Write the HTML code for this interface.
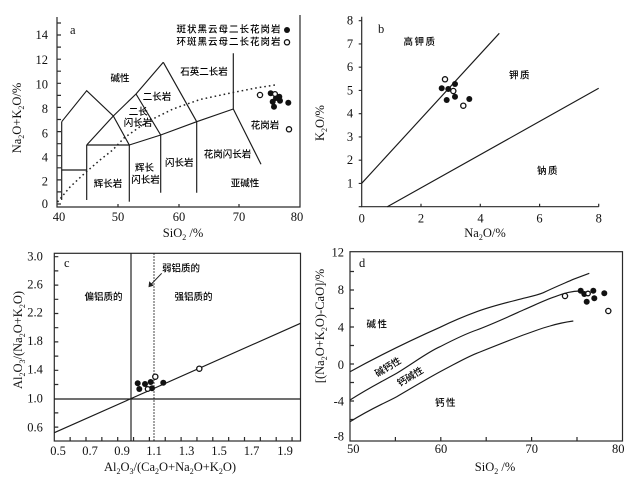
<!DOCTYPE html>
<html>
<head>
<meta charset="utf-8">
<style>
html,body{margin:0;padding:0;background:#fff;}
svg{display:block;}
.n{font-family:"Liberation Serif",serif;font-size:12.5px;fill:#111;}
.t{font-family:"Liberation Serif",serif;font-size:12.5px;fill:#111;}
.c{font-family:"Liberation Sans","Noto Sans CJK SC",sans-serif;font-size:9.5px;fill:#000;font-weight:500;}
.ln{stroke:#1a1a1a;stroke-width:1.15;fill:none;}
.ax{stroke:#2a2a2a;stroke-width:1.2;fill:none;}
</style>
</head>
<body>
<svg width="634" height="483" viewBox="0 0 634 483" xmlns="http://www.w3.org/2000/svg">
<rect x="0" y="0" width="634" height="483" fill="#fff"/>

<!-- ================= Panel a ================= -->
<g>
<path class="ax" d="M57,17 V207 H300 V15"/>
<g class="ax">
<path d="M57,204h4M57,191.9h4M57,179.9h4M57,167.8h4M57,155.7h4M57,143.7h4M57,131.6h4M57,119.5h4M57,107.4h4M57,95.4h4M57,83.3h4M57,71.2h4M57,59.2h4M57,47.1h4M57,35h4M57,23h4"/>
<path d="M118,207v-3M179,207v-3M239,207v-3"/>
</g>
<g class="n" text-anchor="end" dominant-baseline="central">
<text x="48" y="35">14</text><text x="48" y="60">12</text><text x="48" y="84.3">10</text>
<text x="48" y="109">8</text><text x="48" y="133.3">6</text><text x="48" y="157.7">4</text>
<text x="48" y="181.7">2</text><text x="48" y="204">0</text>
</g>
<g class="n" text-anchor="middle" dominant-baseline="central">
<text x="59" y="217">40</text><text x="118" y="217">50</text><text x="179" y="217">60</text>
<text x="239" y="217">70</text><text x="297" y="217">80</text>
</g>
<text class="t" x="183" y="237" text-anchor="middle">SiO<tspan font-size="8" dy="3">2</tspan><tspan dy="-3"> /%</tspan></text>
<text class="t" transform="translate(21,118) rotate(-90)" text-anchor="middle">Na<tspan font-size="8" dy="3">2</tspan><tspan dy="-3">O+K</tspan><tspan font-size="8" dy="3">2</tspan><tspan dy="-3">O/%</tspan></text>

<g class="ln">
<path d="M61.7,121.7V200"/>
<path d="M61.7,170H86.7"/>
<path d="M61.7,121.7L86.7,90.7L113.3,116L129.3,145"/>
<path d="M86.7,145V200"/>
<path d="M86.7,145H129.3"/>
<path d="M86.7,145L113.3,116L136,94L163.3,62.3"/>
<path d="M136,94L160.7,135V192.7"/>
<path d="M163.3,62.3L196.7,121.7V192.7"/>
<path d="M129.3,145V201.7"/>
<path d="M129.3,145L160.7,135L196.7,121.7L233.3,109"/>
<path d="M233.3,53.3V109L261,164.3"/>
</g>
<path d="M57.5,202 L70,187 L85,173 L100,160 L112.7,150 L124,138 L146.7,122 L173,109 L200,99.5 L233,92.5 L256,88 L275,85" fill="none" stroke="#222" stroke-width="1.5" stroke-dasharray="1.6 3"/>

<text class="n" x="70" y="34">a</text>
<g class="c" text-anchor="middle" dominant-baseline="central">
<text x="120" y="79">碱性</text>
<text x="204" y="72.7">石英二长岩</text>
<text x="157" y="97.7">二长岩</text>
<text x="138.3" y="112.7">二长</text>
<text x="138" y="123.3">闪长岩</text>
<text x="265" y="126">花岗岩</text>
<text x="227.5" y="155">花岗闪长岩</text>
<text x="179.3" y="163.3">闪长岩</text>
<text x="144.5" y="168.3">辉长</text>
<text x="145.5" y="180.5">闪长岩</text>
<text x="108" y="184.5">辉长岩</text>
<text x="245" y="184">亚碱性</text>
</g>
<g class="c" text-anchor="start" dominant-baseline="central" style="letter-spacing:1px">
<text x="176.5" y="30">斑状黑云母二长花岗岩</text>
<text x="176.5" y="42.3">环斑黑云母二长花岗岩</text>
</g>
<circle cx="287" cy="30" r="3" fill="#111"/>
<circle cx="287" cy="42.3" r="2.6" fill="#fff" stroke="#111" stroke-width="1.3"/>
<g fill="#111">
<circle cx="270.7" cy="93.3" r="3"/><circle cx="279.3" cy="96.7" r="3"/><circle cx="280" cy="100.7" r="3"/>
<circle cx="272.7" cy="101.7" r="3"/><circle cx="274" cy="106.7" r="3"/><circle cx="288.3" cy="102.7" r="3"/>
<circle cx="276" cy="98" r="3"/>
</g>
<g fill="#fff" stroke="#111" stroke-width="1.3">
<circle cx="260" cy="95" r="2.6"/><circle cx="275" cy="94" r="2.4"/><circle cx="289" cy="129.3" r="2.6"/>
</g>
</g>

<!-- ================= Panel b ================= -->
<g>
<path class="ax" d="M361.7,16.7V206.7H598.7"/>
<path class="ax" d="M361.7,206.7h-3M361.7,183.45h-3M361.7,160.2h-3M361.7,136.95h-3M361.7,113.7h-3M361.7,90.45h-3M361.7,67.2h-3M361.7,43.95h-3M361.7,20.7h-3M421,206.7v-3M480.3,206.7v-3M539.6,206.7v-3M598.7,206.7v-3"/>
<g class="n" text-anchor="middle" dominant-baseline="central">
<text x="350" y="20.7">8</text><text x="350" y="43.95">7</text><text x="350" y="67.2">6</text>
<text x="350" y="90.45">5</text><text x="350" y="113.7">4</text><text x="350" y="136.95">3</text>
<text x="350" y="160.2">2</text><text x="350" y="183.45">1</text>
<text x="361.7" y="218.5">0</text><text x="421" y="218.5">2</text><text x="480.5" y="218.5">4</text>
<text x="539.5" y="218.5">6</text><text x="598.7" y="218.5">8</text>
</g>
<text class="t" x="485" y="237" text-anchor="middle">Na<tspan font-size="8" dy="3">2</tspan><tspan dy="-3">O/%</tspan></text>
<text class="t" transform="translate(324,123) rotate(-90)" text-anchor="middle">K<tspan font-size="8" dy="3">2</tspan><tspan dy="-3">O/%</tspan></text>
<g class="ln">
<path d="M361.7,183.3L499.3,33.3"/>
<path d="M387.3,206.7L598.7,88.3"/>
</g>
<text class="n" x="378" y="33">b</text>
<g class="c" text-anchor="middle" dominant-baseline="central" style="letter-spacing:1.5px">
<text x="420" y="42.3">高钾质</text>
<text x="520" y="76">钾质</text>
<text x="548" y="171.7">钠质</text>
</g>
<g fill="#111">
<circle cx="441.7" cy="88.3" r="3"/><circle cx="448.3" cy="89" r="3"/><circle cx="455" cy="84" r="3"/>
<circle cx="446.7" cy="100" r="3"/><circle cx="455" cy="96.7" r="3"/><circle cx="469.3" cy="99" r="3"/>
</g>
<g fill="#fff" stroke="#111" stroke-width="1.3">
<circle cx="445" cy="79.3" r="2.6"/><circle cx="453.3" cy="91" r="2.6"/><circle cx="463.3" cy="105.7" r="2.6"/>
</g>
</g>

<!-- ================= Panel c ================= -->
<g>
<rect class="ax" x="54.3" y="253.3" width="246.2" height="187.7"/>
<path class="ax" d="M70.15,441v-4M86,441v-4M101.85,441v-4M117.7,441v-4M133.55,441v-4M149.4,441v-4M165.25,441v-4M181.1,441v-4M196.95,441v-4M212.8,441v-4M228.65,441v-4M244.5,441v-4M260.35,441v-4M276.2,441v-4M292.05,441v-4
M54.3,427.1h4M54.3,412.9h4M54.3,384.5h4M54.3,370.3h4M54.3,356.1h4M54.3,341.9h4M54.3,327.7h4M54.3,313.5h4M54.3,299.3h4M54.3,285.1h4M54.3,270.9h4M54.3,256.7h4"/>
<g class="n" text-anchor="middle" dominant-baseline="central">
<text x="35" y="256.5">3.0</text><text x="35" y="284.5">2.6</text><text x="35" y="312.5">2.2</text>
<text x="35" y="341">1.8</text><text x="35" y="369.5">1.4</text><text x="35" y="398.5">1.0</text>
<text x="35" y="427.5">0.6</text>
<text x="58" y="451">0.5</text><text x="90" y="451">0.7</text><text x="122" y="451">0.9</text>
<text x="154" y="451">1.1</text><text x="186.5" y="451">1.3</text><text x="219" y="451">1.5</text>
<text x="251.5" y="451">1.7</text><text x="285" y="451">1.9</text>
</g>
<text class="t" x="170" y="471" text-anchor="middle">Al<tspan font-size="8" dy="3">2</tspan><tspan dy="-3">O</tspan><tspan font-size="8" dy="3">3</tspan><tspan dy="-3">/(Ca</tspan><tspan font-size="8" dy="3">2</tspan><tspan dy="-3">O+Na</tspan><tspan font-size="8" dy="3">2</tspan><tspan dy="-3">O+K</tspan><tspan font-size="8" dy="3">2</tspan><tspan dy="-3">O)</tspan></text>
<text class="t" transform="translate(22,340) rotate(-90)" text-anchor="middle">Al<tspan font-size="8" dy="3">2</tspan><tspan dy="-3">O</tspan><tspan font-size="8" dy="3">3</tspan><tspan dy="-3">/(Na</tspan><tspan font-size="8" dy="3">2</tspan><tspan dy="-3">O+K</tspan><tspan font-size="8" dy="3">2</tspan><tspan dy="-3">O)</tspan></text>
<g class="ln">
<path d="M131,253.3V441"/>
<path d="M54.3,399H300.5"/>
<path d="M54.3,432.7L300.5,323.3"/>
</g>
<path d="M154,253.3V441" stroke="#222" stroke-width="1.1" stroke-dasharray="1.5 1.5"/>
<text class="n" x="64" y="267">c</text>
<path d="M161.7,273.3L150.5,285" stroke="#222" stroke-width="1"/>
<path d="M148.5,287.2L149.2,281.2L153.8,285.6Z" fill="#222"/>
<g class="c" text-anchor="middle" dominant-baseline="central">
<text x="181" y="269">弱铝质的</text>
<text x="103.5" y="297.3">偏铝质的</text>
<text x="193.5" y="297.3">强铝质的</text>
</g>
<g fill="#111">
<circle cx="137.7" cy="383.3" r="3"/><circle cx="139.3" cy="389" r="3"/><circle cx="145" cy="384" r="3"/>
<circle cx="150.7" cy="382" r="3"/><circle cx="152" cy="388.3" r="3"/><circle cx="163.3" cy="382.7" r="3"/>
</g>
<g fill="#fff" stroke="#111" stroke-width="1.3">
<circle cx="155.3" cy="376.7" r="2.6"/><circle cx="147.7" cy="389" r="2.4"/><circle cx="199.3" cy="368.7" r="2.6"/>
</g>
</g>

<!-- ================= Panel d ================= -->
<g>
<rect class="ax" x="350" y="251.7" width="272.5" height="189.3"/>
<path class="ax" d="M395.4,441v-4M440.8,441v-4M486.2,441v-4M531.6,441v-4M577,441v-4
M350,419.5h4M350,401h4M350,382.5h4M350,364h4M350,345.5h4M350,327h4M350,308.5h4M350,290h4M350,271.5h4"/>
<g class="n" text-anchor="end" dominant-baseline="central">
<text x="344" y="252.5">12</text><text x="344" y="290">8</text><text x="344" y="327.7">4</text>
<text x="344" y="365">0</text><text x="344" y="401.7">-4</text><text x="344" y="436.7">-8</text>
</g>
<g class="n" text-anchor="middle" dominant-baseline="central">
<text x="353.3" y="449">50</text><text x="441" y="449">60</text><text x="531.7" y="449">70</text>
<text x="618.3" y="449">80</text>
</g>
<text class="t" x="495" y="471" text-anchor="middle">SiO<tspan font-size="8" dy="3">2</tspan><tspan dy="-3"> /%</tspan></text>
<text class="t" transform="translate(324,326) rotate(-90)" text-anchor="middle">[(Na<tspan font-size="8" dy="3">2</tspan><tspan dy="-3">O+K</tspan><tspan font-size="8" dy="3">2</tspan><tspan dy="-3">O)-CaO]/%</tspan></text>
<g class="ln">
<path d="M350,371.7 C375,358 400,345 440,327.3 C455,320 465,316 476.7,311.7 C495,305 510,302 523.3,298.3 C533,296 538,295 543.3,292.7 C555,287 565,283 573.3,279.3 L589.3,273.3"/>
<path d="M350,400 C372,386 385,380 396.7,373.3 C415,362 428,352 440,346.7 C455,339 465,334 476.7,330 C495,323 510,316 523.3,310 C535,305 545,300 555,296.7 C565,293 572,291 580,291"/>
<path d="M350,421.7 C372,408 385,403 396.7,396.7 C415,386 430,377 443.3,370 C455,364 465,358 476.7,353.3 C495,346 510,340 523.3,335 C535,331 542,328 550,326 C560,323 566,322 573.3,321"/>
</g>
<text class="n" x="359" y="267">d</text>
<g class="c" text-anchor="middle" dominant-baseline="central">
<text x="377.5" y="325" style="letter-spacing:1.5px">碱性</text>
<text x="446" y="403.3" style="letter-spacing:1.5px">钙性</text>
<text transform="translate(388.3,367.7) rotate(-31)">碱钙性</text>
<text transform="translate(410.7,377.3) rotate(-31)">钙碱性</text>
</g>
<g fill="#111">
<circle cx="580.7" cy="290.7" r="3"/><circle cx="584.3" cy="294" r="3"/><circle cx="586.7" cy="301.7" r="3"/>
<circle cx="593.3" cy="290.7" r="3"/><circle cx="594.3" cy="298.3" r="3"/><circle cx="604.3" cy="293.3" r="3"/>
</g>
<g fill="#fff" stroke="#111" stroke-width="1.3">
<circle cx="565" cy="296" r="2.6"/><circle cx="588" cy="293.5" r="2.3"/><circle cx="608.3" cy="311" r="2.6"/>
</g>
</g>
</svg>
</body>
</html>
